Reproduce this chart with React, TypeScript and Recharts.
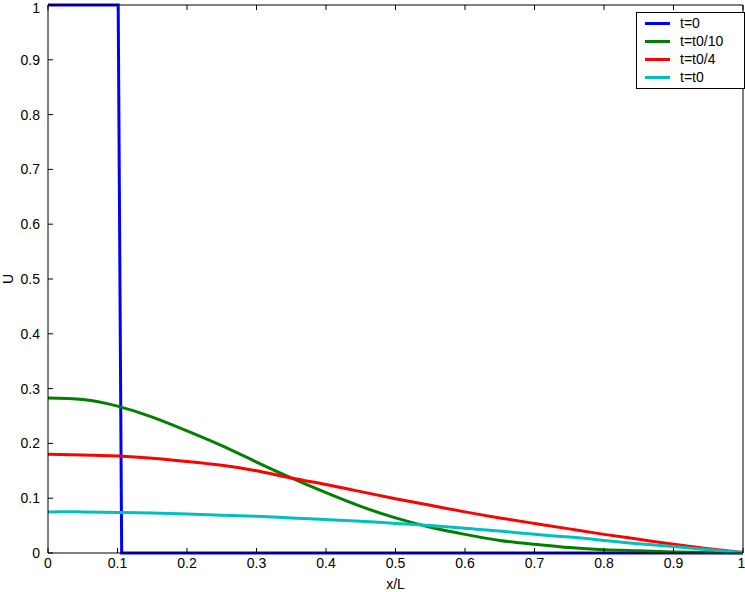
import { LineChart, Line, XAxis, YAxis, Label } from 'recharts'

// sample positions along x/L
const xs = [0, 0.05, 0.1, 0.15, 0.2, 0.25, 0.3, 0.35, 0.4, 0.45, 0.5, 0.55, 0.6, 0.65, 0.7, 0.75, 0.8, 0.85, 0.9, 0.95, 1]

// t=0: step profile
const stepX = [0, 0.101, 0.106, 1]
const stepU = [1, 1, 0, 0]

const uTenth = [0.283, 0.280, 0.268, 0.248, 0.223, 0.196, 0.166, 0.137, 0.110, 0.085, 0.064, 0.047, 0.034, 0.023, 0.016, 0.010, 0.006, 0.004, 0.002, 0.001, 0]
const uQuarter = [0.180, 0.179, 0.177, 0.173, 0.167, 0.160, 0.150, 0.137, 0.125, 0.112, 0.099, 0.087, 0.075, 0.064, 0.054, 0.044, 0.034, 0.025, 0.016, 0.008, 0.001]
const uFull = [0.075, 0.075, 0.074, 0.073, 0.071, 0.069, 0.067, 0.064, 0.061, 0.058, 0.054, 0.050, 0.045, 0.040, 0.034, 0.029, 0.023, 0.017, 0.012, 0.006, 0.001]

const xTicks = [0, 0.1, 0.2, 0.3, 0.4, 0.5, 0.6, 0.7, 0.8, 0.9, 1]
const yTicks = [0, 0.1, 0.2, 0.3, 0.4, 0.5, 0.6, 0.7, 0.8, 0.9, 1]

const series = [
  { name: 't=0', color: '#0000ff' },
  { name: 't=t0/10', color: '#008000' },
  { name: 't=t0/4', color: '#ff0000' },
  { name: 't=t0', color: '#00bfbf' },
]

const stepData = stepX.map((x, i) => ({ x, u: stepU[i] }))
const tenthData = xs.map((x, i) => ({ x, u: uTenth[i] }))
const quarterData = xs.map((x, i) => ({ x, u: uQuarter[i] }))
const fullData = xs.map((x, i) => ({ x, u: uFull[i] }))

const font = '"Liberation Sans", Arial, Helvetica, sans-serif'
const tickStyle = { fill: '#000', fontSize: 14, fontFamily: font }

function LegendBox() {
  return (
    <div
      style={{
        position: 'absolute',
        left: 636,
        top: 12,
        width: 99,
        border: '1px solid #000',
        background: '#fff',
        padding: '1px 0 2px 8px',
        fontFamily: font,
        fontSize: 14,
        color: '#000',
      }}
    >
      {series.map((s) => (
        <div key={s.name} style={{ display: 'flex', alignItems: 'center', height: 18 }}>
          <span style={{ width: 25, height: 3, background: s.color, marginRight: 10 }} />
          <span>{s.name}</span>
        </div>
      ))}
    </div>
  )
}

export default function App() {
  return (
    <div style={{ position: 'absolute', left: 0, top: 0, width: 745, height: 592, background: '#fff' }}>
      <LineChart width={745} height={592} data={tenthData} margin={{ top: 0, right: 0, left: 0, bottom: 0 }}>
        <XAxis
          xAxisId="b"
          dataKey="x"
          type="number"
          domain={[0, 1]}
          ticks={xTicks}
          height={39}
          tickSize={-5}
          tickMargin={10}
          stroke="#000"
          tick={tickStyle}
          allowDuplicatedCategory={false}
        >
          <Label value="x/L" position="insideBottom" offset={3} style={tickStyle} />
        </XAxis>
        <XAxis
          xAxisId="t"
          orientation="top"
          dataKey="x"
          type="number"
          domain={[0, 1]}
          ticks={xTicks}
          height={5}
          tickSize={-5}
          stroke="#000"
          tickFormatter={() => ''}
        />
        <YAxis
          yAxisId="l"
          type="number"
          domain={[0, 1]}
          ticks={yTicks}
          width={48}
          tickSize={-5}
          tickMargin={13}
          stroke="#000"
          tick={tickStyle}
        >
          <Label value="U" angle={-90} position="insideLeft" offset={8} style={{ ...tickStyle, textAnchor: 'middle' }} />
        </YAxis>
        <YAxis
          yAxisId="r"
          orientation="right"
          type="number"
          domain={[0, 1]}
          ticks={yTicks}
          width={2}
          tickSize={-5}
          stroke="#000"
          tickFormatter={() => ''}
        />
        <Line xAxisId="b" yAxisId="l" data={stepData} dataKey="u" name="t=0" stroke="#0000ff" strokeWidth={3} dot={false} isAnimationActive={false} type="linear" />
        <Line xAxisId="b" yAxisId="l" data={tenthData} dataKey="u" name="t=t0/10" stroke="#008000" strokeWidth={3} dot={false} isAnimationActive={false} type="natural" />
        <Line xAxisId="b" yAxisId="l" data={quarterData} dataKey="u" name="t=t0/4" stroke="#ff0000" strokeWidth={3} dot={false} isAnimationActive={false} type="natural" />
        <Line xAxisId="b" yAxisId="l" data={fullData} dataKey="u" name="t=t0" stroke="#00bfbf" strokeWidth={3} dot={false} isAnimationActive={false} type="natural" />
      </LineChart>
      <LegendBox />
    </div>
  )
}
